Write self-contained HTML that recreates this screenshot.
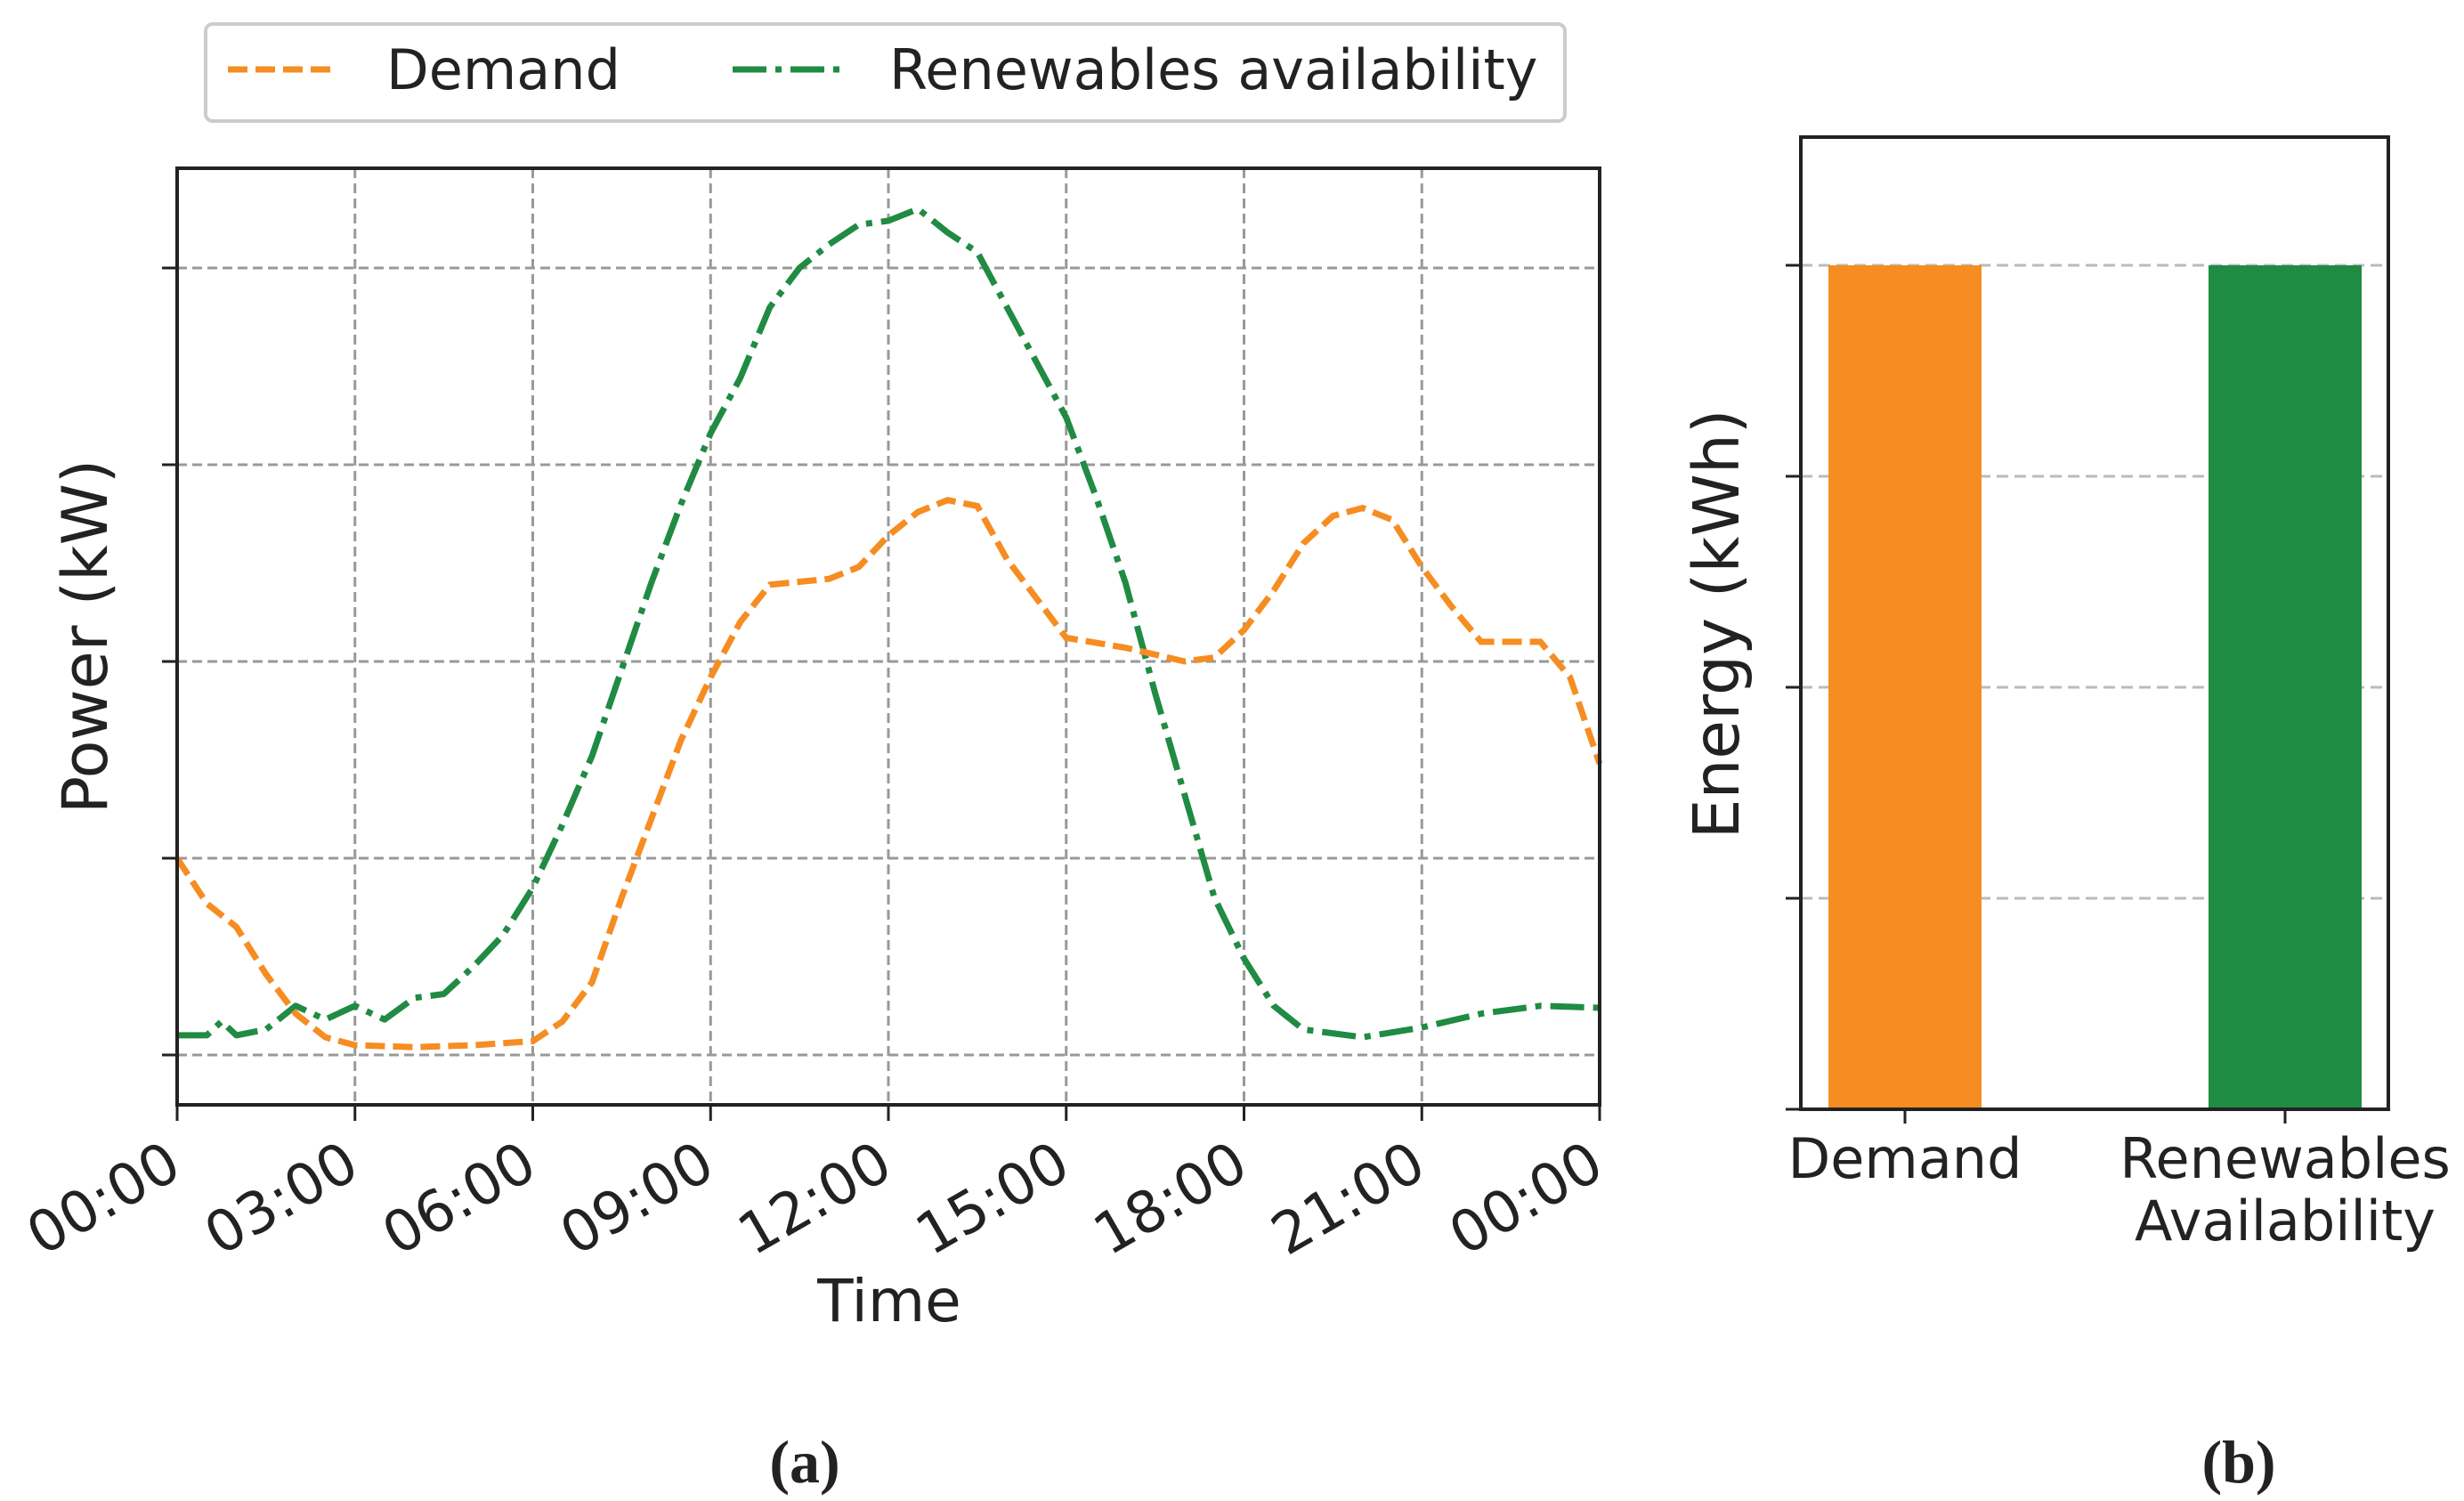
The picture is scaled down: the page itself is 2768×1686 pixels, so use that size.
<!DOCTYPE html>
<html><head><meta charset="utf-8"><style>
html,body{margin:0;padding:0;background:#fff;}
svg{display:block;font-family:"DejaVu Sans","Liberation Sans",sans-serif;}
</style></head><body>
<svg id="s" width="2768" height="1686" viewBox="0 0 2768 1686" xmlns="http://www.w3.org/2000/svg">
<g>
<rect x="231" y="27" width="1527" height="109" rx="8" fill="#fff" stroke="#ccc" stroke-width="4"/>
<line x1="256" y1="78" x2="380" y2="78" stroke="#f58d22" stroke-width="7" stroke-dasharray="22 9"/>
<text x="434" y="100" font-size="62" fill="#222">Demand</text>
<line x1="823" y1="78" x2="946" y2="78" stroke="#208b43" stroke-width="7" stroke-dasharray="38 10 7 10"/>
<text x="999" y="100" font-size="62" fill="#222">Renewables availability</text>
</g>
<g id="left"></g>
<g id="right"></g>
<text x="904" y="1665" font-size="68" font-family="Liberation Serif,serif" font-weight="bold" text-anchor="middle" fill="#222">(a)</text>
<text x="2515" y="1665" font-size="68" font-family="Liberation Serif,serif" font-weight="bold" text-anchor="middle" fill="#222">(b)</text>
</svg>
<script>
const hours=[0,0.5,1,1.5,2,2.5,3,4,5,6,6.5,7,7.5,8,8.5,9,9.5,10,11,11.5,12,12.5,13,13.5,14,14.5,15,16,17,17.5,18,18.5,19,19.5,20,20.5,21,21.5,22,23,23.5,24];
const demand=[1.0,0.77,0.65,0.41,0.21,0.09,0.05,0.04,0.05,0.07,0.17,0.37,0.8,1.2,1.6,1.92,2.2,2.39,2.42,2.48,2.64,2.76,2.82,2.79,2.52,2.32,2.12,2.07,2.0,2.02,2.16,2.36,2.6,2.74,2.78,2.72,2.48,2.28,2.1,2.1,1.92,1.48];
const rHours=[0,0.5,0.75,1,1.5,2,2.5,3,3.5,4,4.5,5,5.5,6,6.5,7,7.5,8,8.5,9,9.5,10,10.5,11,11.5,12,12.5,13,13.5,14,14.5,15,15.5,16,16.5,17,17.5,18,18.5,19,20,21,22,23,24];
const renew=[0.10,0.10,0.17,0.10,0.13,0.25,0.18,0.25,0.18,0.29,0.31,0.45,0.61,0.85,1.17,1.52,1.96,2.4,2.8,3.16,3.44,3.8,4.0,4.12,4.22,4.24,4.3,4.18,4.08,3.8,3.52,3.24,2.84,2.4,1.84,1.32,0.8,0.49,0.25,0.13,0.09,0.14,0.21,0.25,0.24];
const xTickLabels=["00:00","03:00","06:00","09:00","12:00","15:00","18:00","21:00","00:00"];
const yTicks=[0,1,2,3,4];
const barCats=["Demand","Renewables\nAvailability"];
const barVals=[4,4];
const eTicks=[0,1,2,3,4];

const NS="http://www.w3.org/2000/svg";
function mk(p,t,a){const e=document.createElementNS(NS,t);for(const k in a)e.setAttribute(k,a[k]);p.appendChild(e);return e;}
const L=document.getElementById('left');
const X0=199,X1=1797,Y0=189,Y1=1241;
const xs=h=>X0+(X1-X0)*h/24;
const ys=v=>1185-v*221;
yTicks.forEach(v=>{
 const g=mk(L,'line',{x1:X0,x2:X1,y1:ys(v),y2:ys(v),stroke:'#999','stroke-width':3,'stroke-dasharray':'11 6'});
 
 
 const t=mk(L,'line',{x1:182,x2:X0,y1:ys(v),y2:ys(v),stroke:'#222','stroke-width':3});
 
 
});
xTickLabels.forEach((lab,i)=>{
 const x=xs(i*3);
 const g=mk(L,'line',{x1:x,x2:x,y1:Y0,y2:Y1,stroke:'#999','stroke-width':3,'stroke-dasharray':'11 6'});
 
 
 const t=mk(L,'line',{x1:x,x2:x,y1:Y1,y2:Y1+18,stroke:'#222','stroke-width':3});
 
 
 const ax=x+8, ay=Y1+78;
 const tx=mk(L,'text',{x:ax,y:ay,'font-size':64,fill:'#222','text-anchor':'end',transform:`rotate(-30 ${ax} ${ay})`});
 tx.textContent=lab;
 
 
});
function path(hx,vs){return hx.map((h,i)=>(i?'L':'M')+xs(h).toFixed(1)+','+ys(vs[i]).toFixed(1)).join(' ');}
const pg=mk(L,'path',{d:path(rHours,renew),fill:'none',stroke:'#208b43','stroke-width':7,'stroke-dasharray':'38 10 7 10','stroke-linejoin':'round'});


const pd=mk(L,'path',{d:path(hours,demand),fill:'none',stroke:'#f58d22','stroke-width':7,'stroke-dasharray':'22 9'});


const fr=mk(L,'rect',{x:X0,y:Y0,width:X1-X0,height:Y1-Y0,fill:'none',stroke:'#222','stroke-width':4});


const xt=mk(L,'text',{x:999,y:1484,'font-size':66,fill:'#222','text-anchor':'middle'});
xt.textContent='Time';


const yt=mk(L,'text',{x:0,y:0,'font-size':70,fill:'#222','text-anchor':'middle',transform:'translate(120 715) rotate(-90)'});
yt.textContent='Power (kW)';



const R=document.getElementById('right');
const RX0=2023,RX1=2683,RY0=154,RY1=1246;
const ey=v=>RY1-v*(RY1-298)/4;
const bx=[2140,2567],bw=172;
eTicks.forEach(v=>{
 if(v>0){const g=mk(R,'line',{x1:RX0,x2:RX1,y1:ey(v),y2:ey(v),stroke:'#bbb','stroke-width':3,'stroke-dasharray':'13 7'});
 
 }
 const t=mk(R,'line',{x1:2006,x2:RX0,y1:ey(v),y2:ey(v),stroke:'#222','stroke-width':3});
 
 
});
const colors=['#f58d22','#208b43'];
barCats.forEach((c,i)=>{
 const b=mk(R,'rect',{x:bx[i]-bw/2,y:ey(barVals[i]),width:bw,height:RY1-ey(barVals[i]),fill:colors[i]});
 
 
 const t=mk(R,'line',{x1:bx[i],x2:bx[i],y1:RY1,y2:RY1+16,stroke:'#222','stroke-width':3});
 
 
 c.split('\n').forEach((ln,j)=>{
  const tx=mk(R,'text',{x:bx[i],y:1323+j*70,'font-size':62,fill:'#222','text-anchor':'middle'});
  tx.textContent=ln;
  
  
 });
});
const rf=mk(R,'rect',{x:RX0,y:RY0,width:RX1-RX0,height:RY1-RY0,fill:'none',stroke:'#222','stroke-width':4});


const et=mk(R,'text',{x:0,y:0,'font-size':71,fill:'#222','text-anchor':'middle',transform:'translate(1953 701) rotate(-90)'});
et.textContent='Energy (kWh)';


</script>
</body></html>
